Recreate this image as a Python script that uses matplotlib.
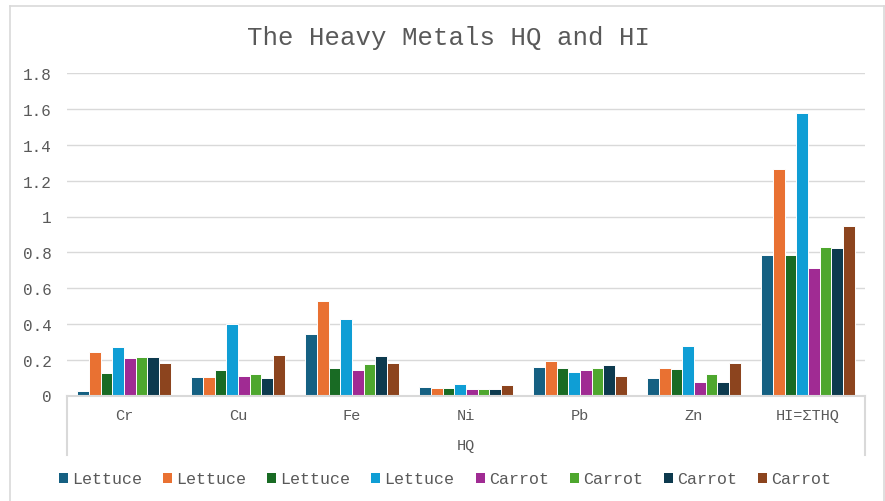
import numpy as np
import matplotlib
matplotlib.use('Agg')
import matplotlib.pyplot as plt
from matplotlib.patches import Patch
from matplotlib.lines import Line2D

# data
categories = ['Cr', 'Cu', 'Fe', 'Ni', 'Pb', 'Zn', 'HI=ΣTHQ']
series_names = ['Lettuce', 'Lettuce', 'Lettuce', 'Lettuce',
                'Carrot', 'Carrot', 'Carrot', 'Carrot']
lettuce_1 = [0.026, 0.106, 0.341, 0.048, 0.160, 0.097, 0.786]
lettuce_2 = [0.244, 0.102, 0.527, 0.043, 0.190, 0.156, 1.266]
lettuce_3 = [0.128, 0.145, 0.155, 0.041, 0.156, 0.149, 0.786]
lettuce_4 = [0.272, 0.397, 0.428, 0.067, 0.134, 0.274, 1.579]
carrot_1 = [0.207, 0.110, 0.145, 0.034, 0.140, 0.073, 0.715]
carrot_2 = [0.216, 0.119, 0.175, 0.035, 0.153, 0.121, 0.830]
carrot_3 = [0.214, 0.095, 0.223, 0.034, 0.173, 0.077, 0.825]
carrot_4 = [0.179, 0.225, 0.184, 0.056, 0.110, 0.184, 0.948]
yticks = [0, 0.2, 0.4, 0.6, 0.8, 1.0, 1.2, 1.4, 1.6, 1.8]
ytick_labels = ['0', '0.2', '0.4', '0.6', '0.8', '1', '1.2', '1.4', '1.6', '1.8']
group_label = 'HQ'
title = 'The Heavy Metals HQ and HI'

all_series = [lettuce_1, lettuce_2, lettuce_3, lettuce_4,
              carrot_1, carrot_2, carrot_3, carrot_4]
colors = ['#156082', '#E97132', '#196B24', '#0F9ED5',
          '#A02B93', '#4EA72E', '#0D3A4E', '#8C441E']

plt.rcParams['font.family'] = ['Liberation Mono', 'DejaVu Sans Mono']
txt_color = '#595959'
grid_color = '#d9d9d9'

W, H = 885, 502
fig = plt.figure(figsize=(W / 100, H / 100), dpi=100)
fig.patch.set_facecolor('white')

# plot area in pixels
x0, x1, ytop, ybot = 67, 865, 74.3, 396.5
ax = fig.add_axes([x0 / W, 1 - ybot / H, (x1 - x0) / W, (ybot - ytop) / H])

x = np.arange(len(categories))
w = 1 / 9.75
for i, (vals, c, name) in enumerate(zip(all_series, colors, series_names)):
    ax.bar(x + (i - 3.5) * w, vals, w, color=c, edgecolor='white',
           linewidth=0.7, label=name, zorder=2)

ax.set_xlim(-0.5, len(categories) - 0.5)
ax.set_ylim(0, 1.8)
ax.set_yticks(yticks)
ax.set_yticklabels(ytick_labels)
ax.yaxis.grid(True, color=grid_color, linewidth=1)
ax.set_axisbelow(True)
ax.tick_params(axis='y', length=0, pad=11, labelsize=11.5, labelcolor=txt_color)
ax.set_xticks([])
for s in ['top', 'right', 'left']:
    ax.spines[s].set_visible(False)
ax.spines['bottom'].set_color(grid_color)
ax.spines['bottom'].set_linewidth(1.5)

# multi-level category axis
ah = ybot - ytop
for xi, lab in zip(x, categories):
    ax.text(xi, -19.5 / ah, lab, transform=ax.get_xaxis_transform(),
            ha='center', va='center', fontsize=11, color=txt_color)
ax.text(0.5, -50 / ah, group_label, transform=ax.transAxes,
        ha='center', va='center', fontsize=11, color=txt_color)
for xa in [0, 1]:
    ax.plot([xa, xa], [0, -(456 - ybot) / ah], transform=ax.transAxes,
            clip_on=False, color=grid_color, linewidth=1.5)

# title
fig.text(448.5 / W, 1 - 38 / H, title, ha='center', va='center',
         fontsize=18.5, color=txt_color)

# legend
handles = [Patch(facecolor=c, edgecolor='none') for c in colors]
fig.legend(handles, series_names, loc='center', bbox_to_anchor=(445 / W, 1 - 480 / H),
           ncol=8, frameon=False, fontsize=12, labelcolor=txt_color,
           handlelength=0.54, handleheight=0.54, handletextpad=0.25,
           columnspacing=1.26, borderaxespad=0, borderpad=0)

# chart border
bx0, bx1, by0 = 10 / W, 884 / W, 1 - 7 / H
for xs, ys in [([bx0, bx1], [by0, by0]), ([bx0, bx0], [by0, 0]), ([bx1, bx1], [by0, 0])]:
    fig.add_artist(Line2D(xs, ys, color=grid_color, linewidth=1.2))

fig.savefig('out.png', dpi=100)
